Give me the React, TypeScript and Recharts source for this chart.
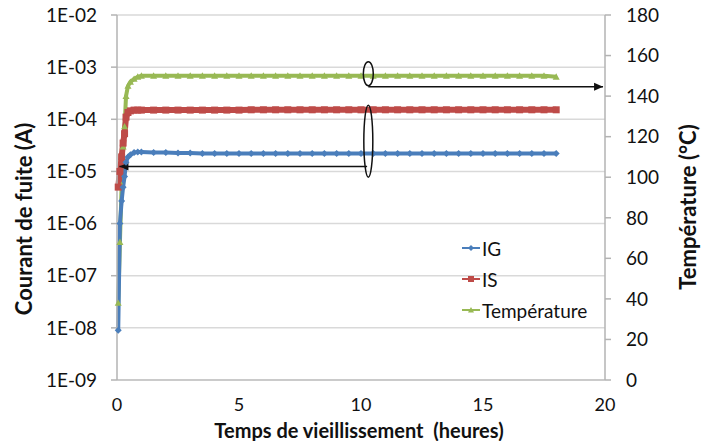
import React from "react";
import {
  LineChart,
  Line,
  XAxis,
  YAxis,
  CartesianGrid,
  ReferenceLine,
  ReferenceDot,
  Label,
} from "recharts";

// Temps de vieillissement (heures)
const hours = [
  0.05, 0.12, 0.19, 0.25, 0.31, 0.37, 0.45, 0.55, 0.7, 0.85, 1.0,
  1.5, 2, 2.5, 3, 3.5, 4, 4.5, 5, 5.5, 6, 6.5, 7, 7.5, 8, 8.5, 9, 9.5,
  10, 10.5, 11, 11.5, 12, 12.5, 13, 13.5, 14, 14.5, 15, 15.5, 16, 16.5, 17, 17.5, 18,
];

// Courant de grille (A)
const igValues = [
  9e-9, 1e-6, 2.7e-6, 5e-6, 8e-6, 1.5e-5, 1.9e-5, 2.1e-5, 2.3e-5, 2.35e-5, 2.35e-5,
  2.3e-5, 2.3e-5, 2.25e-5, 2.25e-5, 2.2e-5, 2.2e-5, 2.2e-5, 2.2e-5, 2.2e-5, 2.2e-5, 2.2e-5, 2.2e-5, 2.2e-5,
  2.2e-5, 2.2e-5, 2.2e-5, 2.2e-5, 2.2e-5, 2.2e-5, 2.2e-5, 2.2e-5, 2.2e-5, 2.2e-5, 2.2e-5, 2.2e-5,
  2.2e-5, 2.2e-5, 2.2e-5, 2.2e-5, 2.2e-5, 2.2e-5, 2.2e-5, 2.2e-5, 2.2e-5,
];

// Courant de source (A)
const isValues = [
  5e-6, 1e-5, 1.9e-5, 3.5e-5, 5.3e-5, 1.1e-4, 1.35e-4, 1.45e-4, 1.5e-4, 1.5e-4, 1.5e-4,
  1.5e-4, 1.5e-4, 1.5e-4, 1.5e-4, 1.5e-4, 1.5e-4, 1.5e-4, 1.5e-4, 1.52e-4, 1.52e-4, 1.52e-4, 1.52e-4, 1.52e-4,
  1.52e-4, 1.52e-4, 1.52e-4, 1.52e-4, 1.52e-4, 1.52e-4, 1.52e-4, 1.52e-4, 1.52e-4, 1.52e-4, 1.52e-4, 1.52e-4,
  1.52e-4, 1.52e-4, 1.52e-4, 1.52e-4, 1.52e-4, 1.52e-4, 1.52e-4, 1.52e-4, 1.52e-4,
];

// Température (°C)
const tempValues = [
  38, 68, 96, 115, 125, 140, 145, 147, 148.5, 149.5, 150,
  150, 150, 150, 150, 150, 150, 150, 150, 150, 150, 150, 150, 150,
  150, 150, 150, 150, 150, 150, 150, 150, 150, 150, 150, 150,
  150, 150, 150, 150, 150, 150, 150, 150, 149.5,
];

const xTicks = [0, 5, 10, 15, 20];
const currentTicks = [1e-9, 1e-8, 1e-7, 1e-6, 1e-5, 1e-4, 1e-3, 1e-2];
const currentTickLabels = ["1E-09", "1E-08", "1E-07", "1E-06", "1E-05", "1E-04", "1E-03", "1E-02"];
const tempTicks = [0, 20, 40, 60, 80, 100, 120, 140, 160, 180];

const data = hours.map((t, i) => ({
  t,
  ig: igValues[i],
  is: isValues[i],
  temp: tempValues[i],
}));

const BLUE = "#4a7ebb";
const RED = "#be4b48";
const GREEN = "#98b954";
const FONT = "Lato, 'Open Sans', sans-serif";
const GRID = "#d9d9d9";
const AXIS = "#b3b3b3";

function diamond(cx: number, cy: number, r: number) {
  return `M${cx},${cy - r}L${cx + r},${cy}L${cx},${cy + r}L${cx - r},${cy}Z`;
}
function triangle(cx: number, cy: number, r: number) {
  return `M${cx},${cy - r}L${cx + r},${cy + r * 0.8}L${cx - r},${cy + r * 0.8}Z`;
}

const blueDot = (p: any) => <path key={p.index} d={diamond(p.cx, p.cy, 3.5)} fill={BLUE} />;
const redDot = (p: any) => (
  <rect key={p.index} x={p.cx - 3.5} y={p.cy - 3.5} width={7} height={7} fill={RED} />
);
const greenDot = (p: any) => <path key={p.index} d={triangle(p.cx, p.cy, 3.5)} fill={GREEN} />;

// line with an arrow head at its end point
function arrowShape(props: any) {
  const { x1, y1, x2, y2 } = props;
  const dir = x2 > x1 ? 1 : -1;
  return (
    <g>
      <line x1={x1} y1={y1} x2={x2} y2={y2} stroke="#111" strokeWidth={1.5} />
      <path
        d={`M${x2},${y2}L${x2 - dir * 9},${y2 - 4}L${x2 - dir * 9},${y2 + 4}Z`}
        fill="#111"
      />
    </g>
  );
}

const ellipseShape = (rx: number, ry: number) => (p: any) =>
  <ellipse cx={p.cx} cy={p.cy} rx={rx} ry={ry} fill="none" stroke="#111" strokeWidth={1.5} />;

const legendItems = [
  { name: "IG", color: BLUE, kind: "diamond" },
  { name: "IS", color: RED, kind: "square" },
  { name: "Température", color: GREEN, kind: "triangle" },
];

function LegendBox() {
  return (
    <svg width={170} height={90} style={{ position: "absolute", left: 460, top: 236, overflow: "visible" }}>
      {legendItems.map((it, i) => {
        const y = 12 + i * 31;
        return (
          <g key={it.name}>
            <line x1={2} y1={y} x2={20} y2={y} stroke={it.color} strokeWidth={2} />
            {it.kind === "diamond" && <path d={diamond(11, y, 3)} fill={it.color} />}
            {it.kind === "square" && <rect x={8} y={y - 3} width={6} height={6} fill={it.color} />}
            {it.kind === "triangle" && <path d={triangle(11, y, 3)} fill={it.color} />}
            <text x={22} y={y} dominantBaseline="central" fontSize={19} fontFamily={FONT} fill="#111">
              {it.name}
            </text>
          </g>
        );
      })}
    </svg>
  );
}

export default function App() {
  return (
    <div style={{ position: "absolute", left: 0, top: 0, width: 701, height: 441, background: "#fff" }}>
      <LineChart
        width={701}
        height={441}
        data={data}
        margin={{ top: 15, right: 0, bottom: 0, left: 0 }}
        style={{ fontFamily: FONT }}
      >
        <CartesianGrid yAxisId="cur" vertical={false} stroke={GRID} strokeWidth={1.5} />
        <XAxis
          dataKey="t"
          type="number"
          domain={[0, 20]}
          ticks={xTicks}
          height={61}
          axisLine={{ stroke: AXIS }}
          tickLine={false}
          tickMargin={12}
          tick={{ fontSize: 18, fill: "#111", fontFamily: FONT }}
        >
          <Label
            content={() => (
              <text x={359} y={430} textAnchor="middle" dominantBaseline="central"
                fontSize={20} fontWeight="bold" fontFamily={FONT} fill="#111">
                {"Temps de vieillissement\u00a0 (heures)"}
              </text>
            )}
          />
        </XAxis>
        <YAxis
          yAxisId="cur"
          orientation="left"
          scale="log"
          type="number"
          domain={[1e-9, 1e-2]}
          ticks={currentTicks}
          allowDataOverflow
          width={117}
          axisLine={{ stroke: AXIS, strokeWidth: 1.5 }}
          tickLine={{ stroke: AXIS, strokeWidth: 1.5 }}
          tickSize={6}
          tickMargin={14}
          tickFormatter={(v: number) => currentTickLabels[currentTicks.indexOf(v)] ?? ""}
          tick={{ fontSize: 19, fill: "#111", fontFamily: FONT }}
        >
          <Label
            content={() => (
              <text transform="translate(23,219) rotate(-90)" textAnchor="middle" dominantBaseline="central"
                fontSize={22} fontWeight="bold" fontFamily={FONT} fill="#111">
                Courant de fuite (A)
              </text>
            )}
          />
        </YAxis>
        <YAxis
          yAxisId="temp"
          orientation="right"
          type="number"
          domain={[0, 180]}
          ticks={tempTicks}
          width={96}
          axisLine={{ stroke: AXIS, strokeWidth: 1.5 }}
          tickLine={{ stroke: AXIS, strokeWidth: 1.5 }}
          tickSize={6}
          tickMargin={15}
          tick={{ fontSize: 19, fill: "#111", fontFamily: FONT }}
        >
          <Label
            content={() => (
              <text transform="translate(687,207) rotate(-90)" textAnchor="middle" dominantBaseline="central"
                fontSize={22} fontWeight="bold" fontFamily={FONT} fill="#111">
                Température (°C)
              </text>
            )}
          />
        </YAxis>

        <Line yAxisId="temp" dataKey="temp" name="Température" stroke={GREEN} strokeWidth={4}
          dot={greenDot} activeDot={false} isAnimationActive={false} />
        <Line yAxisId="cur" dataKey="is" name="IS" stroke={RED} strokeWidth={6}
          dot={redDot} activeDot={false} isAnimationActive={false} />
        <Line yAxisId="cur" dataKey="ig" name="IG" stroke={BLUE} strokeWidth={4}
          dot={blueDot} activeDot={false} isAnimationActive={false} />

        <ReferenceDot yAxisId="temp" x={10.3} y={151} shape={ellipseShape(5, 12)} />
        <ReferenceDot yAxisId="cur" x={10.3} y={3.8e-5} shape={ellipseShape(4.5, 36)} />
        <ReferenceLine yAxisId="temp" segment={[{ x: 10.3, y: 144.6 }, { x: 19.92, y: 144.6 }]}
          shape={arrowShape} />
        <ReferenceLine yAxisId="cur" segment={[{ x: 10.25, y: 1.25e-5 }, { x: 0.1, y: 1.25e-5 }]}
          shape={arrowShape} />
      </LineChart>
      <LegendBox />
    </div>
  );
}
